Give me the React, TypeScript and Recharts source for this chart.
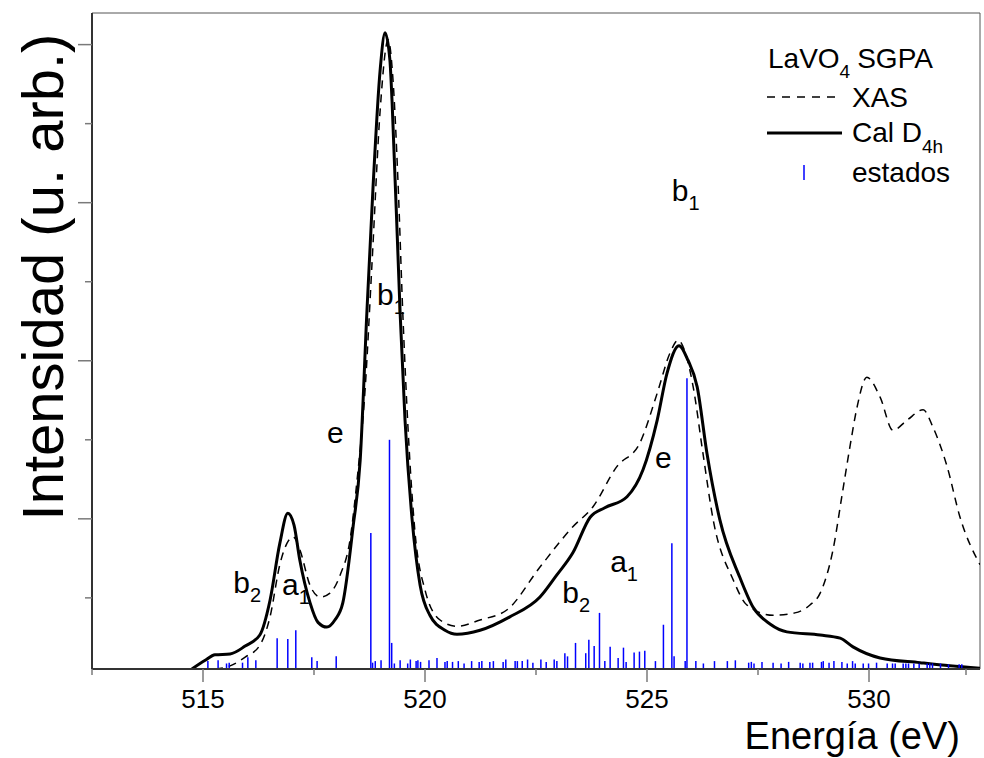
import { LineChart, Line, XAxis, YAxis, ReferenceLine, ReferenceDot } from "recharts";

const FONT = "'Liberation Sans', Arial, Helvetica, sans-serif";

// energy axis (eV) and unlabeled intensity ticks
const X_TICKS = [512.5, 515, 517.5, 520, 522.5, 525, 527.5, 530, 532.5];
const Y_TICKS = [0.9, 1.9, 2.9, 3.9, 4.9, 5.9, 6.9, 7.9];

// Cal D4h (solid)
const CAL_E = [
  514.75, 515.05, 515.27, 515.61, 515.95, 516.28, 516.51, 516.73, 516.91, 517.05,
  517.18, 517.41, 517.59, 517.79, 517.97, 518.15, 518.38, 518.54, 518.69, 518.83,
  518.99, 519.1, 519.21, 519.26, 519.44, 519.55, 519.71, 519.89, 520.11, 520.45,
  520.72, 521.24, 521.91, 522.59, 522.97, 523.33, 523.72, 524.05, 524.55, 524.91,
  525.23, 525.45, 525.72, 525.92, 526.13, 526.35, 526.64, 527.09, 527.39, 527.77,
  528.15, 528.9, 529.35, 529.64, 530.25, 531.15, 531.82, 532.5,
];
const CAL_I = [
  0, 0.11, 0.18, 0.19, 0.29, 0.43, 0.87, 1.59, 1.97, 1.82,
  1.38, 0.84, 0.59, 0.53, 0.62, 0.84, 1.8, 2.64, 4.5, 6.1,
  7.58, 8.05, 7.7, 7.16, 4.5, 3.15, 1.89, 1.06, 0.68, 0.49,
  0.44, 0.49, 0.66, 0.91, 1.19, 1.47, 1.92, 2.04, 2.18, 2.52,
  3.15, 3.74, 4.09, 3.91, 3.57, 2.73, 1.89, 1.16, 0.78, 0.57,
  0.47, 0.43, 0.39, 0.28, 0.14, 0.08, 0.04, 0.01,
];

// XAS (dashed)
const XAS_E = [
  515.27, 515.61, 515.95, 516.28, 516.51, 516.73, 516.89, 517.03, 517.18, 517.41,
  517.64, 517.86, 518.09, 518.31, 518.47, 518.65, 518.81, 518.99, 519.17, 519.28,
  519.39, 519.5, 519.62, 519.77, 520.0, 520.34, 520.72, 521.24, 521.85, 522.59,
  523.33, 523.78, 524.32, 524.84, 525.23, 525.52, 525.7, 525.88, 526.04, 526.26,
  526.49, 526.94, 527.25, 527.84, 528.33, 528.67, 528.9, 529.19, 529.41, 529.57,
  529.73, 529.95, 530.25, 530.54, 530.86, 531.22, 531.44, 531.76, 532.05, 532.5,
];
const XAS_I = [
  0, 0.04, 0.15, 0.3, 0.66, 1.32, 1.59, 1.67, 1.51, 1.06,
  0.91, 0.96, 1.19, 1.63, 2.39, 3.53, 5.17, 7.07, 7.96, 7.45,
  6.19, 4.5, 3.02, 1.76, 1.0, 0.62, 0.54, 0.62, 0.75, 1.29,
  1.8, 2.05, 2.56, 2.86, 3.49, 4.0, 4.16, 3.97, 3.57, 2.73,
  1.89, 1.13, 0.81, 0.68, 0.71, 0.81, 0.96, 1.51, 2.26, 2.81,
  3.31, 3.69, 3.44, 3.02, 3.15, 3.28, 3.06, 2.56, 1.92, 1.32,
];

// estados (blue sticks)
const STATE_E = [
  515.11, 515.34, 515.53, 515.59, 515.89, 516.01, 516.19, 516.67, 516.91, 517.09,
  517.45, 517.57, 518.0, 518.78, 518.82, 518.88, 519.01, 519.2, 519.25, 519.31,
  519.44, 519.61, 519.67, 519.8, 519.84, 519.9, 520.09, 520.27, 520.45, 520.5,
  520.62, 520.75, 520.88, 521.05, 521.22, 521.28, 521.46, 521.54, 521.76, 521.82,
  522.03, 522.08, 522.19, 522.31, 522.43, 522.61, 522.73, 522.91, 522.97, 523.15,
  523.21, 523.39, 523.62, 523.69, 523.81, 523.93, 524.05, 524.17, 524.35, 524.47,
  524.53, 524.71, 524.83, 524.95, 525.19, 525.37, 525.56, 525.61, 525.86, 525.9,
  526.1, 526.27, 526.52, 526.81, 526.99, 527.29, 527.35, 527.41, 527.59, 527.84,
  528.02, 528.19, 528.45, 528.51, 528.67, 528.73, 528.93, 528.97, 529.1, 529.21,
  529.39, 529.51, 529.63, 529.69, 529.87, 529.99, 530.17, 530.41, 530.53, 530.59,
  530.77, 530.83, 530.89, 531.01, 531.13, 531.31, 531.37, 531.43, 531.61, 531.79,
  532.03, 532.09,
];
const STATE_H = [
  0.1, 0.11, 0.07, 0.08, 0.08, 0.15, 0.11, 0.39, 0.38, 0.49,
  0.15, 0.1, 0.16, 1.72, 0.08, 0.1, 0.11, 2.9, 0.33, 0.07,
  0.11, 0.07, 0.12, 0.1, 0.11, 0.09, 0.11, 0.14, 0.09, 0.1,
  0.09, 0.1, 0.07, 0.1, 0.09, 0.1, 0.09, 0.1, 0.09, 0.12,
  0.1, 0.1, 0.1, 0.12, 0.08, 0.12, 0.09, 0.12, 0.1, 0.2,
  0.16, 0.33, 0.2, 0.37, 0.29, 0.71, 0.1, 0.28, 0.14, 0.27,
  0.09, 0.21, 0.22, 0.23, 0.1, 0.56, 1.59, 0.16, 0.1, 3.68,
  0.1, 0.07, 0.1, 0.1, 0.11, 0.08, 0.09, 0.07, 0.09, 0.08,
  0.07, 0.09, 0.08, 0.07, 0.08, 0.08, 0.09, 0.1, 0.08, 0.1,
  0.09, 0.07, 0.1, 0.07, 0.07, 0.07, 0.08, 0.07, 0.07, 0.07,
  0.07, 0.07, 0.07, 0.07, 0.07, 0.07, 0.07, 0.07, 0.07, 0.06,
  0.06, 0.06,
];

// symmetry labels written on the plot
const TAG_MAIN = ["b", "b", "e", "b", "a", "e", "a", "b"];
const TAG_SUB = ["1", "1", "", "2", "1", "", "1", "2"];
const TAG_E = [525.56, 518.92, 517.79, 515.68, 516.78, 525.18, 524.17, 523.09];
const TAG_I = [5.92, 4.61, 2.86, 0.96, 0.94, 2.54, 1.23, 0.84];

const calData = CAL_E.map((e, i) => ({ e, v: CAL_I[i] }));
const xasData = XAS_E.map((e, i) => ({ e, v: XAS_I[i] }));

function XTick(props: any) {
  const { x, y, payload, index } = props;
  const major = index % 2 === 1;
  return (
    <g>
      <line x1={x} y1={y} x2={x} y2={y + (major ? 13 : 6)} stroke="#7a7a7a" strokeWidth={1.5} />
      {major && (
        <text x={x} y={y + 39} textAnchor="middle" fontSize={26} fontFamily={FONT} fill="#000">
          {payload.value}
        </text>
      )}
    </g>
  );
}

function YTick(props: any) {
  const { x, y, index } = props;
  const major = index % 2 === 1;
  return <line x1={x - (major ? 14 : 7)} y1={y} x2={x} y2={y} stroke="#7a7a7a" strokeWidth={1.5} />;
}

function Tag(props: any) {
  const { cx, cy, main, sub } = props;
  return (
    <text x={cx} y={cy} fontSize={30} fontFamily={FONT} fill="#000">
      {main}
      {sub && (
        <tspan dy={9} fontSize={20}>
          {sub}
        </tspan>
      )}
    </text>
  );
}

// legend box plus axis titles, drawn over the chart
function Overlay() {
  return (
    <svg
      width={984}
      height={758}
      fontFamily={FONT}
      style={{ position: "absolute", left: 0, top: 0, pointerEvents: "none" }}
    >
      <text x={63} y={277} transform="rotate(-90 63 277)" textAnchor="middle" fontSize={58} fill="#000">
        Intensidad (u. arb.)
      </text>
      <text x={960} y={749} textAnchor="end" fontSize={38} fill="#000">
        Energía (eV)
      </text>

      <text x={768} y={68} fontSize={28} fill="#000">
        LaVO
        <tspan dy={10} fontSize={19}>4</tspan>
        <tspan dx={7} dy={-10} fontSize={28}>SGPA</tspan>
      </text>
      <line x1={767} y1={97} x2={840} y2={97} stroke="#000" strokeWidth={1.5} strokeDasharray="8 7" />
      <text x={852} y={107} fontSize={28} fill="#000">XAS</text>
      <line x1={767} y1={133} x2={842} y2={133} stroke="#000" strokeWidth={3} />
      <text x={852} y={142} fontSize={28} fill="#000">
        Cal D<tspan dy={11} fontSize={19}>4h</tspan>
      </text>
      <line x1={804} y1={165} x2={804} y2={180} stroke="#0000ff" strokeWidth={1.5} />
      <text x={852} y={182} fontSize={28} fill="#000">estados</text>
    </svg>
  );
}

export default function App() {
  return (
    <div style={{ position: "absolute", left: 0, top: 0, width: 984, height: 758, background: "#fff" }}>
      <LineChart width={984} height={758} margin={{ top: 13, right: 4, bottom: 0, left: 0 }}>
        <XAxis
          dataKey="e"
          type="number"
          domain={[512.5, 532.5]}
          ticks={X_TICKS}
          allowDataOverflow
          height={89}
          tickSize={0}
          tickMargin={0}
          tickLine={false}
          tick={<XTick />}
          axisLine={{ stroke: "#333", strokeWidth: 2 }}
        />
        <YAxis
          type="number"
          domain={[0, 8.3]}
          ticks={Y_TICKS}
          allowDataOverflow
          width={92}
          tickSize={0}
          tickMargin={0}
          tickLine={false}
          tick={<YTick />}
          axisLine={{ stroke: "#333", strokeWidth: 2 }}
        />
        <ReferenceLine y={8.3} stroke="#555" strokeWidth={1} ifOverflow="visible" />
        <ReferenceLine x={532.5} stroke="#555" strokeWidth={1} ifOverflow="visible" />

        <Line
          data={xasData}
          dataKey="v"
          type="monotone"
          stroke="#000"
          strokeWidth={1.5}
          strokeDasharray="8 6"
          dot={false}
          isAnimationActive={false}
        />
        <Line
          data={calData}
          dataKey="v"
          type="monotone"
          stroke="#000"
          strokeWidth={3}
          dot={false}
          isAnimationActive={false}
        />

        {STATE_E.map((e, i) => (
          <ReferenceLine
            key={"s" + i}
            segment={[
              { x: e, y: 0 },
              { x: e, y: STATE_H[i] },
            ]}
            stroke="#0000ff"
            strokeWidth={1.5}
            ifOverflow="visible"
          />
        ))}

        {TAG_MAIN.map((m, i) => (
          <ReferenceDot
            key={"t" + i}
            x={TAG_E[i]}
            y={TAG_I[i]}
            r={0}
            ifOverflow="visible"
            shape={(p: any) => <Tag cx={p.cx} cy={p.cy} main={m} sub={TAG_SUB[i]} />}
          />
        ))}
      </LineChart>
      <Overlay />
    </div>
  );
}
